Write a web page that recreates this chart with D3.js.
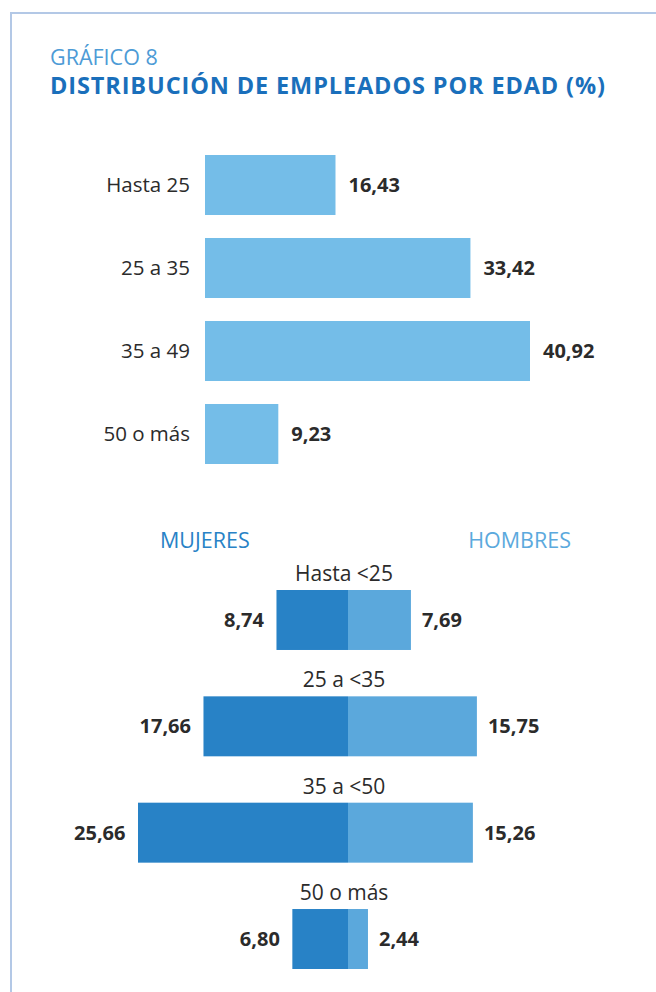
<!DOCTYPE html>
<html>
<head>
<meta charset="utf-8">
<script src="https://cdn.jsdelivr.net/npm/d3@7"></script>
<style>
  html, body { margin: 0; padding: 0; background: #fff; }
  svg { display: block; font-family: "Open Sans", "Noto Sans", sans-serif; }
</style>
</head>
<body>
<svg id="chart" width="656" height="992"></svg>
<script>
// Distribución total por tramo de edad (%)
const ageGroups = ["Hasta 25", "25 a 35", "35 a 49", "50 o más"];
const ageValues = [16.43, 33.42, 40.92, 9.23];

// Distribución por sexo y tramo de edad (%)
const sexGroups = ["Hasta <25", "25 a <35", "35 a <50", "50 o más"];
const womenValues = [8.74, 17.66, 25.66, 6.80];
const menValues = [7.69, 15.75, 15.26, 2.44];

const fmt = v => v.toFixed(2).replace(".", ",");

const svg = d3.select("#chart");

// Marco
svg.append("path")
  .attr("d", "M11,992 V13 H656")
  .attr("fill", "none")
  .attr("stroke", "#b3c8e6")
  .attr("stroke-width", 2);

// Títulos
svg.append("text")
  .attr("x", 50).attr("y", 65)
  .attr("font-size", 21.5)
  .attr("fill", "#4d9bd6")
  .text("GRÁFICO 8");

const title = svg.append("text")
  .attr("x", 50).attr("y", 94)
  .attr("font-size", 23.5)
  .attr("font-weight", 700)
  .attr("fill", "#1a6fbb")
  .text("DISTRIBUCIÓN DE EMPLEADOS POR EDAD (%)");
// el título ocupa el ancho hasta x = 605
{
  const n = title.text().length;
  const len = title.node().getComputedTextLength();
  title.attr("letter-spacing", Math.max(0, (555 - len) / (n - 1)));
}

// ---- Gráfico superior: barras horizontales ----
const x1 = d3.scaleLinear().domain([0, d3.max(ageValues)]).range([205, 530]);
const y1 = d3.scaleBand().domain(ageGroups).range([155, 464]).paddingInner(0.277);

const totalChart = svg.append("g");
const rows1 = totalChart.selectAll("g").data(ageGroups).join("g");

rows1.append("rect")
  .attr("x", x1(0))
  .attr("y", d => y1(d))
  .attr("width", (d, i) => x1(ageValues[i]) - x1(0))
  .attr("height", y1.bandwidth())
  .attr("fill", "#74bde8");

rows1.append("text")
  .attr("x", 190)
  .attr("y", d => y1(d) + y1.bandwidth() / 2)
  .attr("dy", "0.35em")
  .attr("text-anchor", "end")
  .attr("font-size", 20.5)
  .attr("fill", "#2b2b2b")
  .text(d => d);

rows1.append("text")
  .attr("x", (d, i) => x1(ageValues[i]) + 13)
  .attr("y", d => y1(d) + y1.bandwidth() / 2)
  .attr("dy", "0.35em")
  .attr("font-size", 20)
  .attr("font-weight", 700)
  .attr("fill", "#2b2b2b")
  .text((d, i) => fmt(ageValues[i]));

// ---- Gráfico inferior: pirámide mujeres / hombres ----
const cx = 348;
const w2 = d3.scaleLinear().domain([0, d3.max(womenValues)]).range([0, 210]);
const y2 = d3.scaleBand().domain(sexGroups).range([590, 969]).paddingInner(0.436);

svg.append("text")
  .attr("x", 160).attr("y", 548)
  .attr("font-size", 21.5)
  .attr("fill", "#2882c6")
  .text("MUJERES");

svg.append("text")
  .attr("x", 571).attr("y", 548)
  .attr("text-anchor", "end")
  .attr("font-size", 21.5)
  .attr("fill", "#5ba9dd")
  .text("HOMBRES");

const sexChart = svg.append("g");
const rows2 = sexChart.selectAll("g").data(sexGroups).join("g");

rows2.append("rect")
  .attr("x", (d, i) => cx - w2(womenValues[i]))
  .attr("y", d => y2(d))
  .attr("width", (d, i) => w2(womenValues[i]))
  .attr("height", y2.bandwidth())
  .attr("fill", "#2882c6");

rows2.append("rect")
  .attr("x", cx)
  .attr("y", d => y2(d))
  .attr("width", (d, i) => w2(menValues[i]))
  .attr("height", y2.bandwidth())
  .attr("fill", "#5ba8dc");

rows2.append("text")
  .attr("x", 344)
  .attr("y", d => y2(d) - 9)
  .attr("text-anchor", "middle")
  .attr("font-size", 21)
  .attr("fill", "#2b2b2b")
  .text(d => d);

rows2.append("text")
  .attr("x", (d, i) => cx - w2(womenValues[i]) - 12.5)
  .attr("y", d => y2(d) + y2.bandwidth() / 2)
  .attr("dy", "0.35em")
  .attr("text-anchor", "end")
  .attr("font-size", 20)
  .attr("font-weight", 700)
  .attr("fill", "#2b2b2b")
  .text((d, i) => fmt(womenValues[i]));

rows2.append("text")
  .attr("x", (d, i) => cx + w2(menValues[i]) + 11)
  .attr("y", d => y2(d) + y2.bandwidth() / 2)
  .attr("dy", "0.35em")
  .attr("font-size", 20)
  .attr("font-weight", 700)
  .attr("fill", "#2b2b2b")
  .text((d, i) => fmt(menValues[i]));
</script>
</body>
</html>
